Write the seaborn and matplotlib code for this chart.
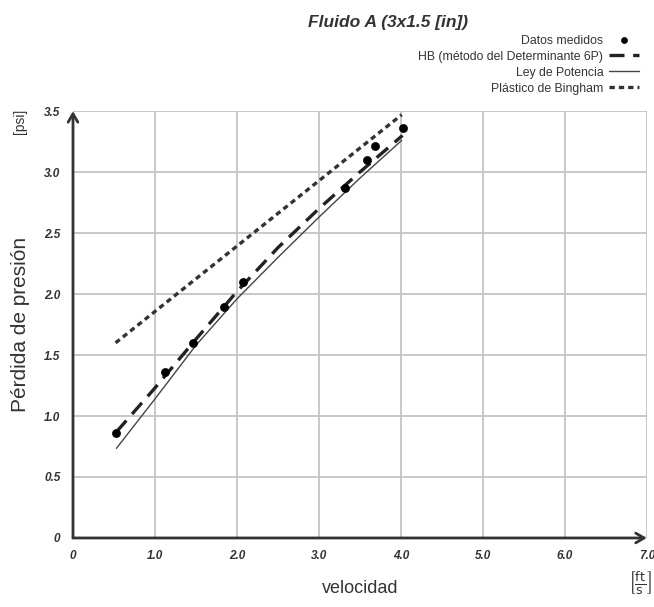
import matplotlib
matplotlib.use("Agg")
import matplotlib.pyplot as plt
import seaborn as sns

# measured points (velocity ft/s, pressure loss psi)
vel_medidos = [0.53, 1.12, 1.46, 1.84, 2.08, 3.32, 3.59, 3.68, 4.03]
dp_medidos = [0.86, 1.36, 1.60, 1.89, 2.10, 2.87, 3.10, 3.21, 3.36]

# model curves
vel_hb = [0.53, 1.0, 1.5, 2.0, 2.5, 3.0, 3.5, 4.02]
dp_hb = [0.87, 1.23, 1.63, 2.02, 2.38, 2.70, 3.00, 3.30]

vel_ley = [0.53, 1.0, 1.5, 2.0, 2.5, 3.0, 3.5, 4.01]
dp_ley = [0.735, 1.14, 1.58, 1.96, 2.30, 2.63, 2.95, 3.26]

vel_bingham = [0.52, 4.01]
dp_bingham = [1.60, 3.47]

x_ticks = [0, 1, 2, 3, 4, 5, 6, 7]
x_ticklabels = ["0", "1.0", "2.0", "3.0", "4.0", "5.0", "6.0", "7.0"]
y_ticks = [0, 0.5, 1.0, 1.5, 2.0, 2.5, 3.0, 3.5]
y_ticklabels = ["0", "0.5", "1.0", "1.5", "2.0", "2.5", "3.0", "3.5"]

sns.set_style("white")
plt.rcParams["font.family"] = ["Liberation Sans", "DejaVu Sans"]

fig = plt.figure(figsize=(6.54, 6.07), dpi=100)
ax = fig.add_axes([0.1116, 0.1137, 0.8774, 0.7033])

txt = "#333333"

sns.lineplot(x=vel_bingham, y=dp_bingham, ax=ax, color="#333333", lw=2.4,
             linestyle=(0, (1.6, 1.2)), label="Plástico de Bingham",
             estimator=None, sort=False)
sns.lineplot(x=vel_ley, y=dp_ley, ax=ax, color="#444444", lw=1.0,
             estimator=None, sort=False, label="Ley de Potencia")
sns.lineplot(x=vel_hb, y=dp_hb, ax=ax, color="#222222", lw=2.4,
             linestyle=(0, (4.5, 2.6)), estimator=None, sort=False,
             label="HB (método del Determinante 6P)")
sns.scatterplot(x=vel_medidos, y=dp_medidos, ax=ax, color="black", s=34,
                edgecolor="black", zorder=5, label="Datos medidos")

ax.set_xlim(0, 7)
ax.set_ylim(0, 3.5)
ax.set_xticks(x_ticks)
ax.set_xticklabels(x_ticklabels)
ax.set_yticks(y_ticks)
ax.set_yticklabels(y_ticklabels)
ax.tick_params(length=0, labelsize=8.5, colors=txt, pad=9)
for lab in ax.get_xticklabels() + ax.get_yticklabels():
    lab.set_fontweight("bold")
    lab.set_fontstyle("italic")
ax.grid(True, color="#c4c4c4", lw=1.3)
ax.set_axisbelow(True)
for s in ax.spines.values():
    s.set_visible(False)

# axis arrows
ax.annotate("", xy=(7, 0), xytext=(0, 0), annotation_clip=False,
            arrowprops=dict(arrowstyle="->,head_length=0.6,head_width=0.35",
                            color="#333333", lw=2, shrinkA=0, shrinkB=0))
ax.annotate("", xy=(0, 3.5), xytext=(0, 0), annotation_clip=False,
            arrowprops=dict(arrowstyle="->,head_length=0.6,head_width=0.35",
                            color="#333333", lw=2, shrinkA=0, shrinkB=0))

ax.set_xlabel("")
ax.set_ylabel("")
fig.text(0.55, 0.03, "velocidad", fontsize=13, color=txt, ha="center", va="center")
fig.text(0.978, 0.04, r"$\left[\frac{\mathrm{ft}}{\mathrm{s}}\right]$", fontsize=13,
         color=txt, ha="center", va="center")
fig.text(0.031, 0.465, "Pérdida de presión", fontsize=15, color=txt, rotation=90,
         ha="center", va="center")
fig.text(0.031, 0.8, "[psi]", fontsize=10, color=txt, rotation=90,
         ha="center", va="center")

fig.text(0.594, 0.963, "Fluido A (3x1.5 [in])", fontsize=12.5, fontweight="bold",
         fontstyle="italic", color=txt, ha="center", va="center")

handles, labels = ax.get_legend_handles_labels()
order = ["Datos medidos", "HB (método del Determinante 6P)", "Ley de Potencia",
         "Plástico de Bingham"]
hmap = dict(zip(labels, handles))
leg = fig.legend([hmap[k] for k in order], order, loc="upper right",
                 bbox_to_anchor=(0.988, 0.955), frameon=False, markerfirst=False,
                 fontsize=8.8, handlelength=2.45, labelspacing=0.33,
                 handletextpad=0.45, borderaxespad=0.2, markerscale=0.75)
for t in leg.get_texts():
    t.set_color(txt)
    t.set_ha("right")
if ax.get_legend() is not None:
    ax.get_legend().remove()

fig.savefig("out.png", dpi=100)
